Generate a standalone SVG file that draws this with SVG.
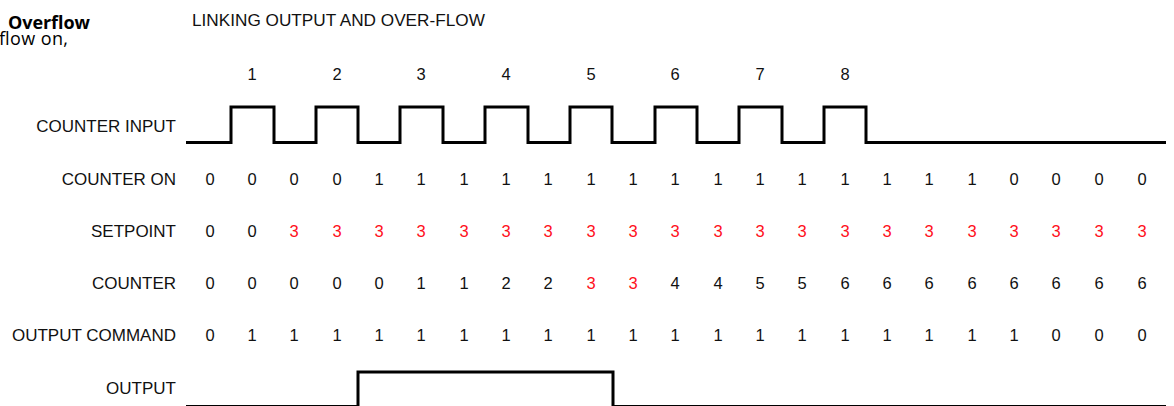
<svg xmlns="http://www.w3.org/2000/svg" width="1174" height="406" viewBox="0 0 1174 406">
<style>
.doc{font-family:"Open Sans","Noto Sans",sans-serif;font-size:18px;fill:#000}
.lbl{font-family:"Liberation Sans",Arial,sans-serif;font-size:17px;fill:#111;text-anchor:end}
.ttl{font-family:"Liberation Sans",Arial,sans-serif;font-size:17.2px;fill:#111}
.v{font-family:"Liberation Sans",Arial,sans-serif;font-size:16.5px;fill:#111;text-anchor:middle}
.r{fill:#ff1020}
.wave{fill:none;stroke:#000;stroke-width:3}
</style>
<rect width="1174" height="406" fill="#fff"/>
<g id="doc-text">
<text class="doc" x="8" y="29" font-weight="bold" textLength="82">Overflow</text>
<text class="doc" x="-1" y="45" textLength="69">flow on,</text>
</g>
<g id="title"><text class="ttl" x="192" y="26">LINKING OUTPUT AND OVER-FLOW</text></g>
<g id="pulse-numbers">
<text class="v" x="252" y="80">1</text>
<text class="v" x="337" y="80">2</text>
<text class="v" x="421" y="80">3</text>
<text class="v" x="506" y="80">4</text>
<text class="v" x="591" y="80">5</text>
<text class="v" x="675" y="80">6</text>
<text class="v" x="760" y="80">7</text>
<text class="v" x="845" y="80">8</text>
</g>
<g id="counter-input">
<text class="lbl" x="176" y="132">COUNTER INPUT</text>
<path class="wave" d="M186 142.5H231V107H274V142.5H316V107H358V142.5H400V107H443V142.5H485V107H528V142.5H570V107H612V142.5H655V107H697V142.5H739V107H782V142.5H824V107H866V142.5H1166"/>
</g>
<g id="counter-on">
<text class="lbl" x="176" y="185">COUNTER ON</text>
<text class="v" y="185"><tspan x="210">0</tspan><tspan x="252">0</tspan><tspan x="294">0</tspan><tspan x="337">0</tspan><tspan x="379">1</tspan><tspan x="421">1</tspan><tspan x="464">1</tspan><tspan x="506">1</tspan><tspan x="548">1</tspan><tspan x="591">1</tspan><tspan x="633">1</tspan><tspan x="675">1</tspan><tspan x="718">1</tspan><tspan x="760">1</tspan><tspan x="802">1</tspan><tspan x="845">1</tspan><tspan x="887">1</tspan><tspan x="929">1</tspan><tspan x="972">1</tspan><tspan x="1014">0</tspan><tspan x="1056">0</tspan><tspan x="1099">0</tspan><tspan x="1142">0</tspan></text>
</g>
<g id="setpoint">
<text class="lbl" x="176" y="237">SETPOINT</text>
<text class="v" y="237"><tspan x="210">0</tspan><tspan x="252">0</tspan><tspan class="r" x="294">3</tspan><tspan class="r" x="337">3</tspan><tspan class="r" x="379">3</tspan><tspan class="r" x="421">3</tspan><tspan class="r" x="464">3</tspan><tspan class="r" x="506">3</tspan><tspan class="r" x="548">3</tspan><tspan class="r" x="591">3</tspan><tspan class="r" x="633">3</tspan><tspan class="r" x="675">3</tspan><tspan class="r" x="718">3</tspan><tspan class="r" x="760">3</tspan><tspan class="r" x="802">3</tspan><tspan class="r" x="845">3</tspan><tspan class="r" x="887">3</tspan><tspan class="r" x="929">3</tspan><tspan class="r" x="972">3</tspan><tspan class="r" x="1014">3</tspan><tspan class="r" x="1056">3</tspan><tspan class="r" x="1099">3</tspan><tspan class="r" x="1142">3</tspan></text>
</g>
<g id="counter">
<text class="lbl" x="176" y="289">COUNTER</text>
<text class="v" y="289"><tspan x="210">0</tspan><tspan x="252">0</tspan><tspan x="294">0</tspan><tspan x="337">0</tspan><tspan x="379">0</tspan><tspan x="421">1</tspan><tspan x="464">1</tspan><tspan x="506">2</tspan><tspan x="548">2</tspan><tspan class="r" x="591">3</tspan><tspan class="r" x="633">3</tspan><tspan x="675">4</tspan><tspan x="718">4</tspan><tspan x="760">5</tspan><tspan x="802">5</tspan><tspan x="845">6</tspan><tspan x="887">6</tspan><tspan x="929">6</tspan><tspan x="972">6</tspan><tspan x="1014">6</tspan><tspan x="1056">6</tspan><tspan x="1099">6</tspan><tspan x="1142">6</tspan></text>
</g>
<g id="output-command">
<text class="lbl" x="176" y="341">OUTPUT COMMAND</text>
<text class="v" y="341"><tspan x="210">0</tspan><tspan x="252">1</tspan><tspan x="294">1</tspan><tspan x="337">1</tspan><tspan x="379">1</tspan><tspan x="421">1</tspan><tspan x="464">1</tspan><tspan x="506">1</tspan><tspan x="548">1</tspan><tspan x="591">1</tspan><tspan x="633">1</tspan><tspan x="675">1</tspan><tspan x="718">1</tspan><tspan x="760">1</tspan><tspan x="802">1</tspan><tspan x="845">1</tspan><tspan x="887">1</tspan><tspan x="929">1</tspan><tspan x="972">1</tspan><tspan x="1014">1</tspan><tspan x="1056">0</tspan><tspan x="1099">0</tspan><tspan x="1142">0</tspan></text>
</g>
<g id="output">
<text class="lbl" x="176" y="394">OUTPUT</text>
<path class="wave" d="M186 406.5H358V372H613V406.5H1166"/>
</g>
</svg>
